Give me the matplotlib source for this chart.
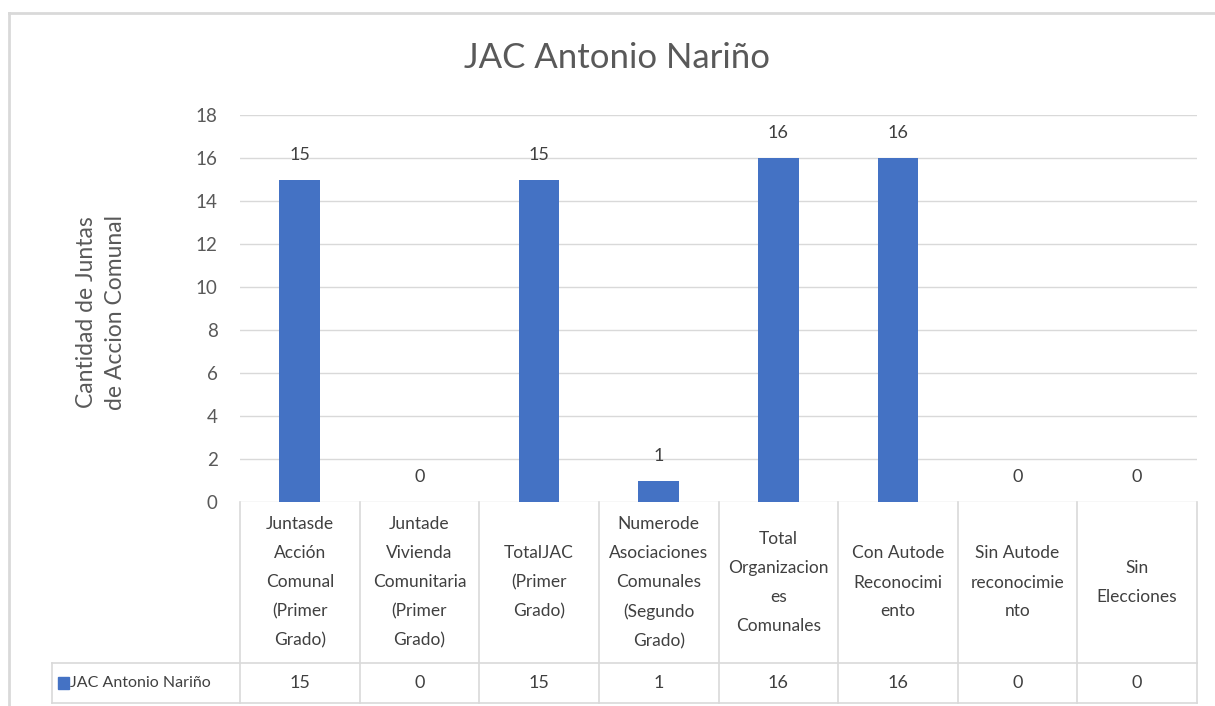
import matplotlib
matplotlib.use("Agg")
import matplotlib.pyplot as plt
import matplotlib.transforms as mtransforms
from matplotlib.lines import Line2D
from matplotlib.patches import Rectangle

# --- data ---
categorias = [
    "Juntasde\nAcción\nComunal\n(Primer\nGrado)",
    "Juntade\nVivienda\nComunitaria\n(Primer\nGrado)",
    "TotalJAC\n(Primer\nGrado)",
    "Numerode\nAsociaciones\nComunales\n(Segundo\nGrado)",
    "Total\nOrganizacion\nes\nComunales",
    "Con Autode\nReconocimi\nento",
    "Sin Autode\nreconocimie\nnto",
    "Sin\nElecciones",
]
valores = [15, 0, 15, 1, 16, 16, 0, 0]
serie = "JAC Antonio Nariño"
titulo = "JAC Antonio Nariño"
ylabel = "Cantidad de Juntas\nde Accion Comunal"

azul = "#4472c4"
gris_txt = "#595959"
gris_linea = "#d9d9d9"

plt.rcParams['font.family'] = ['Lato', 'DejaVu Sans']

W, H = 1215, 706
fig = plt.figure(figsize=(W / 100, H / 100), dpi=100)

# axes en pixeles
x0, x1, y_top, y_bot = 240, 1197, 115, 502
ax = fig.add_axes([x0 / W, 1 - y_bot / H, (x1 - x0) / W, (y_bot - y_top) / H])

pos = list(range(len(valores)))
ax.bar(pos, valores, width=0.34, color=azul, zorder=3)
for p, v in zip(pos, valores):
    ax.annotate(str(v), (p, v), xytext=(0, 12), textcoords="offset points",
                ha="center", va="bottom", fontsize=13, color="#404040")

ax.set_xlim(-0.5, len(valores) - 0.5)
ax.set_ylim(0, 18)
ax.set_yticks(range(0, 19, 2))
ax.set_xticks([])
ax.tick_params(axis="y", length=0, pad=16, labelsize=13.5, labelcolor=gris_txt)
ax.grid(axis="y", color=gris_linea, linewidth=1, zorder=0)
for s in ax.spines.values():
    s.set_visible(False)

fig.text(0.083, 1 - 312 / H, ylabel, rotation=90, ha="center", va="center",
         fontsize=16.5, color=gris_txt, linespacing=1.5)
fig.text(0.508, 1 - 58 / H, titulo, ha="center", va="center",
         fontsize=25, color=gris_txt)

# --- tabla de datos ---
tr = mtransforms.blended_transform_factory(ax.transData, fig.transFigure)
y_cab = 1 - y_bot / H
y_mid = 1 - 663 / H
y_fin = 1 - 703 / H
x_leyenda = 52 / W
kw = dict(color=gris_linea, linewidth=1.2)

for e in [p - 0.5 for p in pos] + [len(valores) - 0.5]:
    fig.add_artist(Line2D([e, e], [y_cab, y_fin], transform=tr, **kw))
fig.add_artist(Line2D([x_leyenda, x1 / W], [y_mid, y_mid], **kw))
fig.add_artist(Line2D([x_leyenda, x1 / W], [y_fin, y_fin], **kw))
fig.add_artist(Line2D([x_leyenda, x_leyenda], [y_mid, y_fin], **kw))

for p, c, v in zip(pos, categorias, valores):
    fig.text(p, (y_cab + y_mid) / 2, c, transform=tr, ha="center", va="center",
             fontsize=12.5, color="#404040", linespacing=2.0)
    fig.text(p, (y_mid + y_fin) / 2, str(v), transform=tr, ha="center",
             va="center", fontsize=13, color="#404040")

fig.add_artist(Rectangle((58 / W, 1 - 689 / H), 11 / W, 12 / H,
                         color=azul, transform=fig.transFigure))
fig.text(70 / W, (y_mid + y_fin) / 2, serie, ha="left", va="center",
         fontsize=11.5, color="#404040")

# marco del grafico
fig.add_artist(Line2D([9 / W, 1], [1 - 13 / H, 1 - 13 / H], color=gris_linea, linewidth=2))
fig.add_artist(Line2D([9 / W, 9 / W], [0, 1 - 13 / H], color=gris_linea, linewidth=2))

fig.savefig("out.png", dpi=100, facecolor="white")
